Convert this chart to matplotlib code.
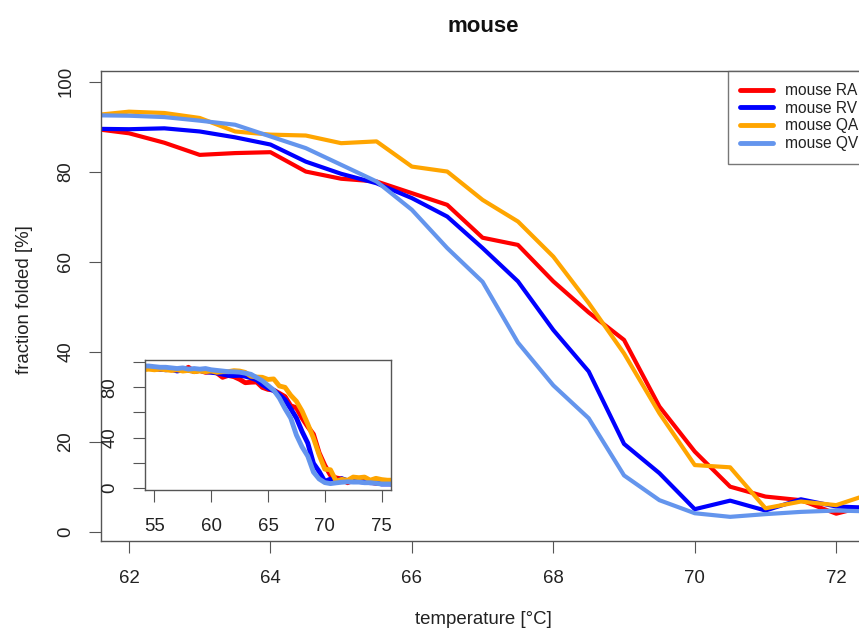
import matplotlib
matplotlib.use('Agg')
import matplotlib.pyplot as plt

plt.rcParams['font.family'] = ['Liberation Sans', 'DejaVu Sans']

# temperature grid [°C]
temperature = [54.0, 54.5, 55.0, 55.5, 56.0, 56.5, 57.0, 57.5, 58.0, 58.5,
               59.0, 59.5, 60.0, 60.5, 61.0, 61.5, 62.0, 62.5, 63.0, 63.5,
               64.0, 64.5, 65.0, 65.5, 66.0, 66.5, 67.0, 67.5, 68.0, 68.5,
               69.0, 69.5, 70.0, 70.5, 71.0, 71.5, 72.0, 72.5, 73.0, 73.5,
               74.0, 74.5, 75.0, 75.5, 76.0]

# fraction folded [%] per construct
mouse_RA = [95.5, 95.5, 95.0, 94.5, 94.5, 94.0, 94.0, 93.5, 96.0, 92.5,
            93.5, 92.0, 92.5, 91.5, 88.0, 89.5, 88.5, 86.4, 83.7, 84.1,
            84.3, 80.0, 78.4, 77.8, 75.2, 72.6, 65.3, 63.7, 55.6, 48.7,
            42.6, 27.8, 17.8, 10.0, 7.8, 7.0, 4.0, 6.0, 5.5, 6.5,
            4.5, 3.5, 3.5, 3.5, 3.0]
mouse_RV = [95.0, 95.5, 95.0, 94.5, 94.0, 94.5, 93.0, 94.0, 93.5, 93.0,
            93.5, 92.5, 92.0, 91.5, 90.5, 89.5, 89.4, 89.6, 88.9, 87.6,
            86.0, 82.2, 79.5, 77.4, 74.1, 70.0, 63.0, 55.6, 44.8, 35.6,
            19.5, 13.0, 5.0, 6.9, 4.7, 7.2, 5.6, 5.3, 5.0, 4.5,
            4.0, 4.0, 3.0, 3.0, 3.0]
mouse_QA = [94.0, 94.5, 94.0, 94.5, 94.0, 93.5, 94.0, 93.0, 93.5, 92.5,
            93.0, 92.5, 93.0, 92.0, 92.5, 92.5, 93.3, 93.0, 91.9, 88.9,
            88.2, 88.0, 86.3, 86.7, 81.1, 80.0, 73.7, 68.9, 61.1, 50.8,
            39.6, 26.3, 14.8, 14.3, 5.2, 6.7, 5.9, 8.5, 8.0, 8.5,
            6.0, 7.5, 6.5, 6.0, 6.0]
mouse_QV = [97.0, 97.0, 96.5, 96.0, 96.0, 95.5, 95.0, 95.5, 94.5, 95.0,
            94.5, 95.0, 94.0, 93.5, 93.0, 92.5, 92.4, 92.1, 91.3, 90.4,
            87.8, 85.2, 81.5, 77.8, 71.5, 63.0, 55.5, 42.0, 32.5, 25.2,
            12.5, 7.0, 4.1, 3.3, 3.9, 4.4, 4.7, 4.5, 4.5, 4.0,
            4.0, 3.5, 3.0, 3.0, 3.0]

series_names = ['mouse RA', 'mouse RV', 'mouse QA', 'mouse QV']
series_values = [mouse_RA, mouse_RV, mouse_QA, mouse_QV]
series_colors = ['#FF0000', '#0000FF', '#FFA500', '#6495ED']

main_xticks = [62, 64, 66, 68, 70, 72]
main_yticks = [0, 20, 40, 60, 80, 100]
inset_xticks = [55, 60, 65, 70, 75]
inset_yticks = [0, 20, 40, 60, 80, 100]
inset_ylabels = ['0', '', '40', '', '80', '']

W, H = 859, 632
axis_col = '#555555'


def px_box(left, top, right, bottom):
    return [left / W, 1 - bottom / H, (right - left) / W, (bottom - top) / H]


def style_axes(ax, xpad, ypad):
    for s in ax.spines.values():
        s.set_color(axis_col)
        s.set_linewidth(1.0)
    ax.tick_params(direction='out', length=8.4, width=0.8, color=axis_col,
                   labelsize=13.4, labelcolor='#222222')
    ax.tick_params(axis='x', pad=xpad)
    ax.tick_params(axis='y', pad=ypad)
    for lab in ax.get_yticklabels():
        lab.set_rotation(90)
        lab.set_va('center')


fig = plt.figure(figsize=(W / 100, H / 100), dpi=100)

# main panel (runs past the right edge of the picture)
ax = fig.add_axes(px_box(100.7, 70.7, 864.5, 540.7))
for name, vals, col in zip(series_names, series_values, series_colors):
    ax.plot(temperature, vals, color=col, lw=3.0, label=name,
            solid_joinstyle='round', solid_capstyle='round')
ax.set_xlim(61.6, 72.4)
ax.set_ylim(-2.0, 102.4)
ax.set_xticks(main_xticks)
ax.set_yticks(main_yticks)
style_axes(ax, 12.5, 10.5)

leg = ax.legend(loc='upper right', bbox_to_anchor=(1.0 + 6 / 763.8, 1.0),
                borderaxespad=0, fancybox=False, fontsize=11.2,
                handlelength=2.1, handletextpad=0.75, labelspacing=0.17,
                borderpad=0.8)
leg.get_frame().set_edgecolor(axis_col)
leg.get_frame().set_linewidth(1.0)
for t in leg.get_texts():
    t.set_color('#222222')
for h in leg.get_lines():
    h.set_linewidth(3.5)

# inset with full temperature range
axi = fig.add_axes(px_box(145.3, 360, 390.7, 490))
axi.set_facecolor('white')
for vals, col in zip(series_values, series_colors):
    axi.plot(temperature, vals, color=col, lw=3.5,
             solid_joinstyle='round', solid_capstyle='round')
axi.set_xlim(54.2, 75.8)
axi.set_ylim(-1.8, 101.8)
axi.set_xticks(inset_xticks)
axi.set_yticks(inset_yticks)
axi.set_yticklabels(inset_ylabels)
style_axes(axi, 12, 11)

fig.text(483 / W, 1 - 26 / H, 'mouse', ha='center', va='center',
         fontsize=16, fontweight='bold', color='#111111')
fig.text(483 / W, 1 - 620 / H, 'temperature [°C]', ha='center', va='center',
         fontsize=13.4, color='#222222')
fig.text(25 / W, 1 - 300 / H, 'fraction folded [%]', ha='center', va='center',
         rotation=90, fontsize=13.4, color='#222222')

fig.savefig('out.png', dpi=100)
